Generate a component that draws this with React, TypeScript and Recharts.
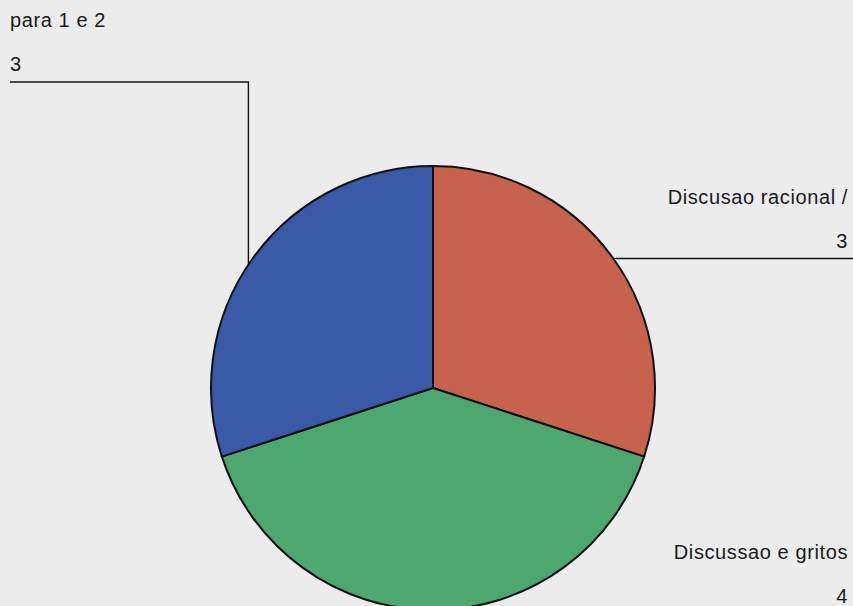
import React from "react";
import { PieChart, Pie, Cell } from "recharts";

const categories = ["Discusao racional /", "Discussao e gritos", "para 1 e 2"];
const values = [3, 4, 3];
const colors = ["#c6624e", "#4da86f", "#3a5aa8"];

const data = categories.map((name, i) => ({ name, value: values[i] }));

const W = 853;
const H = 606;
const RAD = Math.PI / 180;

const renderLabel = (props: any) => {
  const { cx, cy, midAngle, outerRadius, index, name, value } = props;
  const ex = cx + outerRadius * Math.cos(-midAngle * RAD);
  const ey = cy + outerRadius * Math.sin(-midAngle * RAD);
  const right = Math.cos(-midAngle * RAD) >= 0;
  const textStyle: any = {
    fontFamily: "'Liberation Sans', Arial, sans-serif",
    fontSize: 20,
    letterSpacing: 0.6,
    fill: "#1a1a1a",
  };
  let lineY = ey;
  let line: React.ReactNode = null;
  if (index === 2) {
    lineY = 82;
    const lx = ex - 5;
    line = (
      <polyline
        points={`10,${lineY} ${lx},${lineY} ${lx},${ey + 8}`}
        fill="none"
        stroke="#111"
        strokeWidth={1.4}
      />
    );
  } else if (right && Math.abs(Math.sin(-midAngle * RAD)) < 0.9) {
    line = (
      <line x1={ex} y1={ey + 1} x2={W} y2={ey + 1} stroke="#111" strokeWidth={1.4} />
    );
    lineY = ey + 1;
  } else {
    lineY = ey + 4;
  }
  const tx = right ? W - 5 : 10;
  const anchor = right ? "end" : "start";
  return (
    <g key={`lbl-${index}`}>
      {line}
      <text x={tx} y={lineY - 55} textAnchor={anchor} style={textStyle}>
        {name}
      </text>
      <text x={tx} y={lineY - 11} textAnchor={anchor} style={textStyle}>
        {value}
      </text>
    </g>
  );
};

export default function App() {
  React.useEffect(() => {
    document.body.style.margin = "0";
    document.body.style.background = "#ececec";
  }, []);
  return (
    <div style={{ position: "absolute", left: 0, top: 0, width: W, height: H, background: "#ececec" }}>
      <PieChart width={W} height={H} margin={{ top: 0, right: 0, bottom: 0, left: 0 }}>
        <Pie
          data={data}
          dataKey="value"
          nameKey="name"
          cx={433}
          cy={388}
          outerRadius={222}
          startAngle={90}
          endAngle={-270}
          stroke="#111"
          strokeWidth={2}
          label={renderLabel}
          labelLine={false}
          isAnimationActive={false}
        >
          {data.map((d, i) => (
            <Cell key={d.name} fill={colors[i]} />
          ))}
        </Pie>
      </PieChart>
    </div>
  );
}
